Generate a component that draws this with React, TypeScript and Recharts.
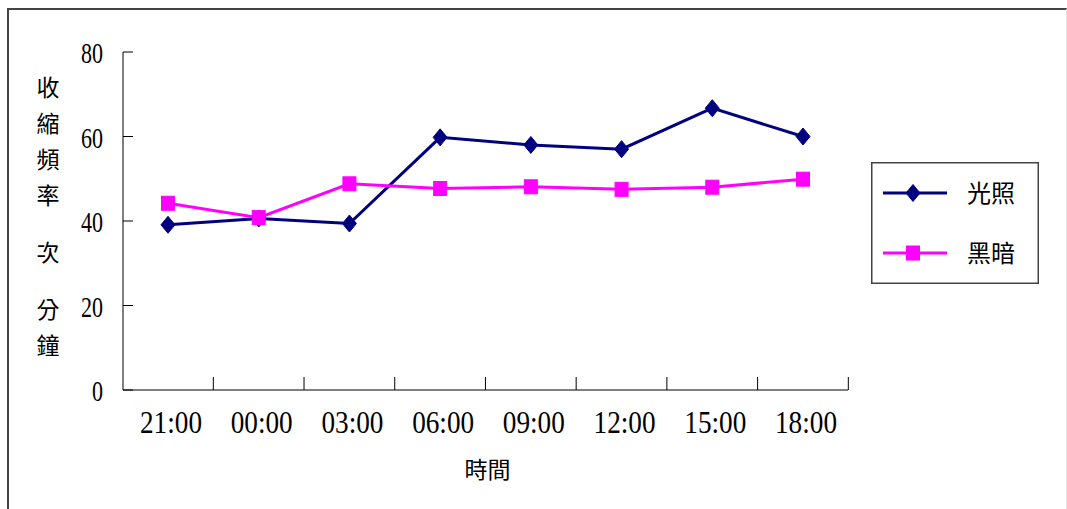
import React from 'react';
import { LineChart, Line, XAxis, YAxis, Legend } from 'recharts';

// Sampling times and contraction frequencies (times per minute)
const times = ['21:00', '00:00', '03:00', '06:00', '09:00', '12:00', '15:00', '18:00'];
const lightValues = [39.1, 40.6, 39.4, 59.8, 58.0, 57.0, 66.7, 60.0];
const darkValues = [44.2, 40.8, 48.8, 47.7, 48.1, 47.5, 48.0, 49.9];
const yTicks = [0, 20, 40, 60, 80];
const seriesNames = ['光照', '黑暗'];
const yTitleParts = ['收縮頻率', '次', '分鐘'];
const xTitle = '時間';

const data = times.map((t, i) => ({ time: t, light: lightValues[i], dark: darkValues[i] }));

const NAVY = '#000080';
const MAGENTA = '#FF00FF';
const NUM_FONT = "'Liberation Serif', serif";
const CJK_FONT = "'Noto Sans CJK TC', sans-serif";

const W = 1067;
const H = 509;

const Diamond = ({ cx, cy, color }: { cx: number; cy: number; color: string }) => (
  <polygon
    points={`${cx},${cy - 8.5} ${cx + 7},${cy} ${cx},${cy + 8.5} ${cx - 7},${cy}`}
    fill={color}
    stroke={color}
    strokeWidth={1}
  />
);

const Square = ({ cx, cy, color }: { cx: number; cy: number; color: string }) => (
  <rect x={cx - 6.5} y={cy - 7} width={13} height={14} fill={color} stroke={color} strokeWidth={1} />
);

const lightDot = (p: any) => <Diamond key={`l-${p.index}`} cx={p.cx} cy={p.cy} color={NAVY} />;
const darkDot = (p: any) => <Square key={`d-${p.index}`} cx={p.cx} cy={p.cy} color={MAGENTA} />;

// Category labels centred in each slot, with a tick mark on every slot boundary
const XTick = (props: any) => {
  const { x, y, payload, width, visibleTicksCount } = props;
  const band = width / visibleTicksCount;
  return (
    <g>
      <line x1={x + band / 2} x2={x + band / 2} y1={y} y2={y - 13} stroke="#000" strokeWidth={1} />
      <text
        x={x + 3}
        y={y + 43}
        textAnchor="middle"
        fontFamily={NUM_FONT}
        fontSize={31}
        textLength={62}
        lengthAdjust="spacingAndGlyphs"
        fill="#000"
      >
        {payload.value}
      </text>
    </g>
  );
};

const YTick = (props: any) => {
  const { x, y, payload } = props;
  const s = String(payload.value);
  return (
    <text
      x={x}
      y={y + 11}
      textAnchor="end"
      fontFamily={NUM_FONT}
      fontSize={30}
      textLength={s.length * 11}
      lengthAdjust="spacingAndGlyphs"
      fill="#000"
    >
      {s}
    </text>
  );
};

// Vertical axis title, one character per line, with a wider gap between word groups
const YTitle = (props: any) => {
  const { viewBox } = props;
  const cx = 48;
  let cy = viewBox.y + 35;
  const items: React.ReactNode[] = [];
  yTitleParts.forEach((part, gi) => {
    if (gi > 0) cy += 21;
    Array.from(part).forEach((ch, ci) => {
      items.push(
        <text
          key={`${gi}-${ci}`}
          x={cx}
          y={cy + 9}
          textAnchor="middle"
          fontFamily={CJK_FONT}
          fontSize={23}
          fill="#000"
        >
          {ch}
        </text>
      );
      cy += 36;
    });
  });
  return <g>{items}</g>;
};

const XTitle = (props: any) => {
  const { viewBox } = props;
  return (
    <text
      x={viewBox.x + viewBox.width / 2 + 2}
      y={viewBox.y + 88}
      textAnchor="middle"
      fontFamily={CJK_FONT}
      fontSize={23}
      fill="#000"
    >
      {xTitle}
    </text>
  );
};

const LegendBox = (props: any) => {
  const payload = props.payload || [];
  return (
    <svg width={168} height={122} style={{ display: 'block' }}>
      <rect x={0.75} y={0.75} width={166.5} height={120.5} fill="#fff" stroke="#444" strokeWidth={1.5} />
      {payload.map((item: any, i: number) => {
        const cy = 31 + i * 60;
        const color = item.color;
        return (
          <g key={item.value}>
            <line x1={12} x2={76} y1={cy} y2={cy} stroke={color} strokeWidth={3} />
            {item.dataKey === 'light' ? (
              <Diamond cx={42} cy={cy} color={color} />
            ) : (
              <Square cx={42} cy={cy} color={color} />
            )}
            <text x={96} y={cy + 9} fontFamily={CJK_FONT} fontSize={24} fill="#000">
              {item.value}
            </text>
          </g>
        );
      })}
    </svg>
  );
};

export default function App() {
  return (
    <div
      style={{
        position: 'absolute',
        left: 0,
        top: 0,
        width: W,
        height: H,
        overflow: 'hidden',
        background: '#fff',
      }}
    >
      <div
        style={{
          position: 'absolute',
          left: 7,
          top: 8,
          width: 1060,
          height: 530,
          borderLeft: '2px solid #444',
          borderTop: '2px solid #444',
          borderRight: '1px solid #e4e4e4',
          boxSizing: 'border-box',
        }}
      />
      <div style={{ position: 'absolute', left: 0, top: 0 }}>
        <LineChart width={W} height={H} data={data} margin={{ top: 52, right: 219, bottom: 79, left: 0 }}>
          <XAxis
            dataKey="time"
            type="category"
            interval={0}
            height={40}
            padding={{ left: 45, right: 45 }}
            axisLine={{ stroke: '#000', strokeWidth: 1 }}
            tickLine={false}
            tickSize={0}
            tickMargin={0}
            tick={<XTick />}
            label={<XTitle />}
          />
          <YAxis
            type="number"
            domain={[0, 80]}
            ticks={yTicks}
            width={123}
            axisLine={{ stroke: '#000', strokeWidth: 1 }}
            tickLine={{ stroke: '#000', strokeWidth: 1 }}
            tickSize={-10}
            tickMargin={30}
            tick={<YTick />}
            label={<YTitle />}
          />
          <Legend
            layout="vertical"
            align="center"
            verticalAlign="middle"
            wrapperStyle={{ position: 'absolute', left: 871, top: 162, width: 168, height: 122 }}
            content={<LegendBox />}
          />
          <Line
            dataKey="light"
            name={seriesNames[0]}
            stroke={NAVY}
            strokeWidth={3}
            dot={lightDot}
            activeDot={false}
            isAnimationActive={false}
          />
          <Line
            dataKey="dark"
            name={seriesNames[1]}
            stroke={MAGENTA}
            strokeWidth={3}
            dot={darkDot}
            activeDot={false}
            isAnimationActive={false}
          />
        </LineChart>
      </div>
    </div>
  );
}
